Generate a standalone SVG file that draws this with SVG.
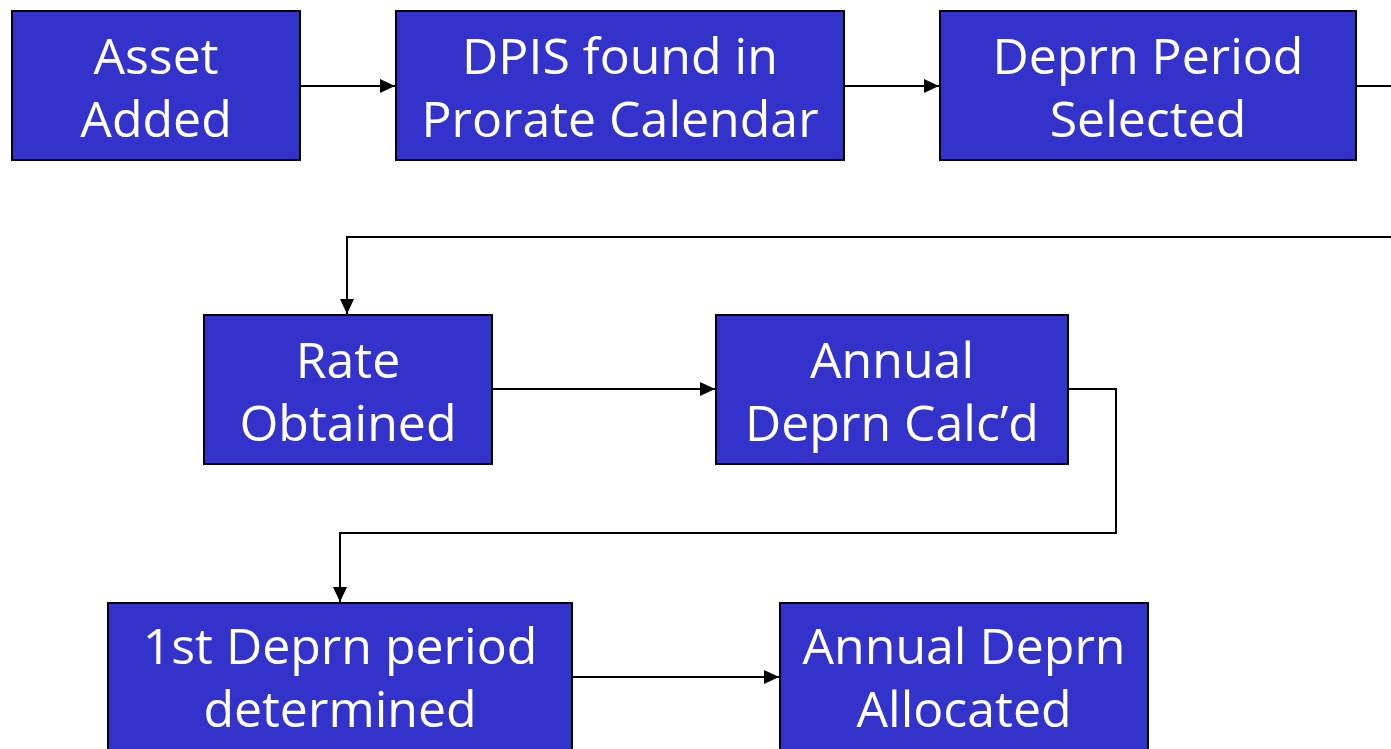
<svg xmlns="http://www.w3.org/2000/svg" width="1391" height="749" viewBox="0 0 1391 749">
<style>
.box{fill:#3333CC;stroke:#000;stroke-width:2}
.t{fill:#fff;font-family:"Open Sans","Lato",sans-serif;font-size:50px;text-anchor:middle}
.c{fill:none;stroke:#000;stroke-width:2}
</style>
<defs>
<marker id="ah" markerWidth="15" markerHeight="14" refX="15" refY="7" orient="auto" markerUnits="userSpaceOnUse">
<path d="M0,0 L15,7 L0,14 Z" fill="#000"/>
</marker>
</defs>
<rect width="1391" height="749" fill="#fff"/>
<g id="connectors">
<path class="c" d="M300,86 H395" marker-end="url(#ah)"/>
<path class="c" d="M844,86 H939" marker-end="url(#ah)"/>
<path class="c" d="M1356,86 H1391"/>
<path class="c" d="M1391,237 H347 V314" marker-end="url(#ah)"/>
<path class="c" d="M492,389 H715" marker-end="url(#ah)"/>
<path class="c" d="M1068,389 H1116 V533 H340 V602" marker-end="url(#ah)"/>
<path class="c" d="M572,677 H779" marker-end="url(#ah)"/>
</g>
<g id="n1"><rect class="box" x="12" y="11" width="288" height="149"/><text class="t" x="156" y="74">Asset</text><text class="t" x="156" y="137">Added</text></g>
<g id="n2"><rect class="box" x="396" y="11" width="448" height="149"/><text class="t" x="620" y="74">DPIS found in</text><text class="t" x="620" y="137">Prorate Calendar</text></g>
<g id="n3"><rect class="box" x="940" y="11" width="416" height="149"/><text class="t" x="1148" y="74">Deprn Period</text><text class="t" x="1148" y="137">Selected</text></g>
<g id="n4"><rect class="box" x="204" y="315" width="288" height="149"/><text class="t" x="348" y="378">Rate</text><text class="t" x="348" y="441">Obtained</text></g>
<g id="n5"><rect class="box" x="716" y="315" width="352" height="149"/><text class="t" x="892" y="378">Annual</text><text class="t" x="892" y="441">Deprn Calc’d</text></g>
<g id="n6"><rect class="box" x="108" y="603" width="464" height="160"/><text class="t" x="340" y="664">1st Deprn period</text><text class="t" x="340" y="727">determined</text></g>
<g id="n7"><rect class="box" x="780" y="603" width="368" height="160"/><text class="t" x="964" y="664">Annual Deprn</text><text class="t" x="964" y="727">Allocated</text></g>
</svg>
